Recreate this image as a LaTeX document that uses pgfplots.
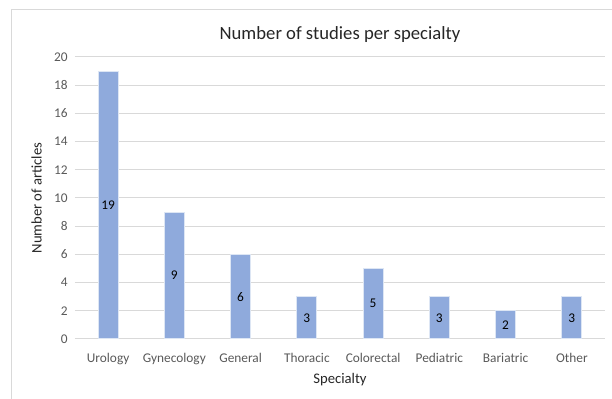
\documentclass[border=0pt]{standalone}
\usepackage{pgfplots}
\pgfplotsset{compat=1.18}
\usepackage{fontspec}
\setmainfont{Carlito}
\definecolor{barblue}{HTML}{8FAADC}
\definecolor{gridgray}{HTML}{D9D9D9}
\definecolor{txtgray}{HTML}{595959}
\begin{document}
\begin{tikzpicture}
\useasboundingbox (0,0) rectangle (459pt,299.25pt);
\draw[gridgray, line width=0.75pt] (8.25pt,0pt) -- (8.25pt,291.75pt) -- (459pt,291.75pt);
\begin{axis}[
  at={(56.25pt,45pt)}, anchor=south west,
  scale only axis, width=397.5pt, height=211.5pt,
  ymin=0, ymax=20, ytick={0,2,...,20},
  xmin=-0.5, xmax=7.5,
  xtick={0,...,7},
  xticklabels={Urology,Gynecology,General,Thoracic,Colorectal,Pediatric,Bariatric,Other},
  axis line style={draw=none},
  ymajorgrids, grid style={gridgray, line width=0.75pt},
  major tick length=0pt,
  tick label style={font=\fontsize{10}{12}\selectfont, text=txtgray},
  /pgf/number format/assume math mode=true,
  xticklabel style={yshift=-7.5pt},
  yticklabel style={xshift=-2pt},
  title={Number of studies per specialty},
  title style={font=\fontsize{14}{16}\selectfont, text=black!85, at={(0.5,1)}, yshift=1pt},
  xlabel={Specialty},
  ylabel={Number of articles},
  label style={font=\fontsize{11}{13}\selectfont, text=black!85},
  ylabel style={yshift=2.5pt},
  xlabel style={yshift=0.5pt},
  ybar, bar width=15pt,
  visualization depends on={y \as \rawy},
  nodes near coords,
  nodes near coords style={font=\fontsize{10}{12}\selectfont, text=black, anchor=center, shift={(axis direction cs:0,-\rawy/2)}},
  clip=false,
]
\addplot[fill=barblue, draw=white!70!barblue, line width=0.75pt] coordinates {
(0,19) (1,9) (2,6) (3,3) (4,5) (5,3) (6,2) (7,3)};
\end{axis}
\end{tikzpicture}
\end{document}
